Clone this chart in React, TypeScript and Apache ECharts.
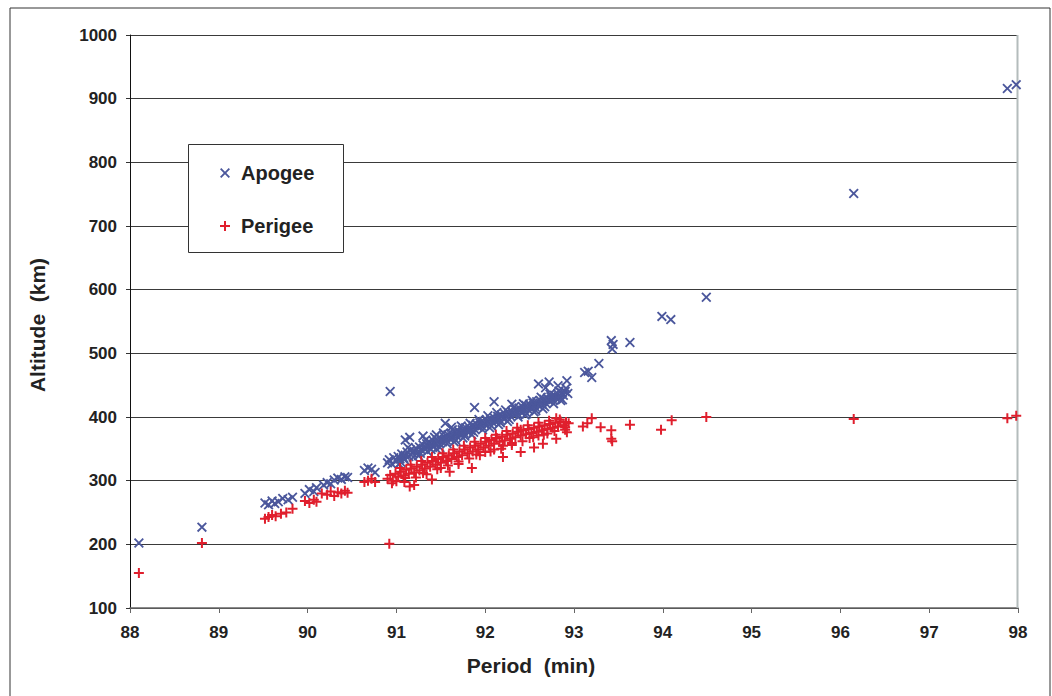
import React, { useEffect, useRef } from "react";
import * as echarts from "echarts";

const xTicks = [88, 89, 90, 91, 92, 93, 94, 95, 96, 97, 98];
const yTicks = [100, 200, 300, 400, 500, 600, 700, 800, 900, 1000];
const xTitle = "Period  (min)";
const yTitle = "Altitude  (km)";

// Apogee: [period (min), altitude (km)]
const apogeeLow: number[][] = [
  [88.1, 202], [88.81, 227],
  [89.52, 265], [89.56, 262], [89.6, 268], [89.63, 264], [89.67, 267], [89.72, 272], [89.78, 270], [89.83, 274],
  [89.97, 280], [90.02, 286], [90.07, 283], [90.1, 289],
  [90.18, 293], [90.22, 297], [90.26, 295], [90.3, 301], [90.34, 304], [90.38, 302], [90.42, 306], [90.45, 305],
  [90.64, 316], [90.68, 320], [90.72, 318], [90.76, 313],
  [90.93, 440],
];
const apogeeBand: number[][] = [
  [90.9, 328], [90.92, 333], [90.95, 326], [90.97, 336], [91.0, 331], [91.02, 338], [91.04, 334], [91.06, 342],
  [91.08, 336], [91.1, 340], [91.12, 345], [91.14, 338], [91.16, 348], [91.18, 343], [91.2, 346], [91.22, 351],
  [91.24, 344], [91.26, 353], [91.28, 348], [91.3, 356], [91.32, 350], [91.34, 358], [91.36, 353], [91.38, 360],
  [91.4, 355], [91.42, 362], [91.44, 357], [91.46, 364], [91.48, 359], [91.5, 366], [91.52, 361], [91.54, 369],
  [91.56, 364], [91.58, 372], [91.6, 366], [91.62, 374], [91.64, 368], [91.66, 376], [91.68, 370], [91.7, 378],
  [91.72, 373], [91.74, 380], [91.76, 375], [91.78, 383], [91.8, 377], [91.82, 384], [91.84, 379], [91.86, 387],
  [91.88, 381], [91.9, 389], [91.92, 384], [91.94, 391], [91.96, 386], [91.98, 393], [92.0, 388], [92.02, 395],
  [92.04, 390], [92.06, 397], [92.08, 392], [92.1, 399], [92.12, 394], [92.14, 401], [92.16, 396], [92.18, 403],
  [92.2, 398], [92.22, 405], [92.24, 400], [92.26, 407], [92.28, 402], [92.3, 409], [92.32, 404], [92.34, 411],
  [92.36, 406], [92.38, 414], [92.4, 408], [92.42, 416], [92.44, 410], [92.46, 418], [92.48, 412], [92.5, 420],
  [92.52, 414], [92.54, 422], [92.56, 416], [92.58, 424], [92.6, 418], [92.62, 426], [92.64, 420], [92.66, 428],
  [92.68, 422], [92.7, 430], [92.72, 425], [92.74, 432], [92.76, 427], [92.78, 434], [92.8, 429], [92.82, 436],
  [92.84, 431], [92.86, 438], [92.88, 434], [92.9, 440],
  [91.05, 329], [91.25, 339], [91.45, 350], [91.65, 361], [91.85, 372], [92.05, 383], [92.25, 393], [92.45, 403],
  [92.65, 413], [92.85, 426], [91.35, 346], [91.75, 367], [92.15, 388], [92.55, 408],
  [91.03, 326], [91.09, 333], [91.13, 352], [91.19, 337], [91.27, 343], [91.33, 364], [91.39, 349], [91.43, 368],
  [91.49, 352], [91.53, 375], [91.57, 358], [91.63, 380], [91.67, 363], [91.73, 386], [91.77, 370], [91.83, 390],
  [91.87, 376], [91.93, 396], [91.97, 380], [92.03, 402], [92.07, 386], [92.13, 407], [92.17, 391], [92.23, 411],
  [92.27, 396], [92.33, 416], [92.37, 400], [92.43, 421], [92.47, 405], [92.53, 426], [92.57, 410], [92.63, 431],
  [92.67, 416], [92.73, 436], [92.77, 421], [92.83, 441], [92.87, 427], [92.91, 445], [92.93, 437],
];
const apogeeHigh: number[][] = [
  [91.1, 364], [91.15, 368], [91.3, 370], [91.45, 372], [91.55, 390], [91.62, 384], [91.88, 415], [92.1, 424],
  [92.3, 420], [92.6, 452], [92.68, 446], [92.72, 455], [92.82, 449], [92.92, 457],
  [93.12, 470], [93.16, 472], [93.2, 462], [93.28, 484], [93.42, 520], [93.44, 514], [93.43, 507], [93.63, 517],
  [93.99, 558], [94.09, 553], [94.49, 588], [96.15, 751], [97.88, 916], [97.98, 922],
];
const apogee: number[][] = [...apogeeLow, ...apogeeBand, ...apogeeHigh];

// Perigee: [period (min), altitude (km)]
const perigeeLow: number[][] = [
  [88.1, 155], [88.81, 202],
  [89.52, 240], [89.56, 243], [89.6, 246], [89.64, 244], [89.7, 248], [89.76, 250], [89.83, 256],
  [89.97, 268], [90.02, 265], [90.07, 270], [90.1, 267],
  [90.16, 280], [90.22, 278], [90.26, 283], [90.3, 276], [90.34, 282], [90.38, 280], [90.42, 284], [90.45, 281],
  [90.64, 298], [90.68, 300], [90.72, 303], [90.76, 298],
  [90.92, 201],
];
const perigeeBand: number[][] = [
  [90.9, 303], [90.93, 309], [90.96, 300], [90.99, 311], [91.02, 306], [91.05, 314], [91.08, 308], [91.11, 317],
  [91.14, 311], [91.17, 319], [91.2, 313], [91.23, 322], [91.26, 316], [91.29, 325], [91.32, 319], [91.35, 328],
  [91.38, 322], [91.41, 331], [91.44, 325], [91.47, 334], [91.5, 328], [91.53, 337], [91.56, 331], [91.59, 340],
  [91.62, 334], [91.65, 343], [91.68, 337], [91.71, 346], [91.74, 340], [91.77, 349], [91.8, 343], [91.83, 352],
  [91.86, 346], [91.89, 355], [91.92, 349], [91.95, 358], [91.98, 352], [92.01, 361], [92.04, 355], [92.07, 364],
  [92.1, 358], [92.13, 367], [92.16, 361], [92.19, 369], [92.22, 363], [92.25, 372], [92.28, 366], [92.31, 374],
  [92.34, 368], [92.37, 377], [92.4, 371], [92.43, 379], [92.46, 373], [92.49, 381], [92.52, 375], [92.55, 383],
  [92.58, 377], [92.61, 385], [92.64, 379], [92.67, 387], [92.7, 381], [92.73, 389], [92.76, 383], [92.79, 391],
  [92.82, 385], [92.85, 393], [92.88, 387], [92.91, 392],
  [91.0, 299], [91.1, 304], [91.3, 312], [91.5, 320], [91.7, 330], [91.9, 341], [92.1, 349], [92.3, 359],
  [92.5, 367], [92.7, 374], [92.9, 384], [92.0, 345], [92.2, 355], [92.6, 371], [92.4, 380], [92.8, 398],
  [90.95, 296], [91.04, 320], [91.09, 298], [91.16, 325], [91.22, 305], [91.28, 331], [91.34, 310], [91.4, 337],
  [91.46, 318], [91.52, 343], [91.58, 324], [91.64, 349], [91.7, 326], [91.76, 355], [91.82, 335], [91.88, 361],
  [91.94, 340], [92.0, 367], [92.06, 346], [92.12, 372], [92.18, 350], [92.24, 378], [92.3, 356], [92.36, 383],
  [92.42, 362], [92.48, 387], [92.54, 368], [92.6, 391], [92.66, 372], [92.72, 394], [92.78, 378], [92.84, 396],
  [92.9, 380], [92.94, 390],
];
const perigeeHigh: number[][] = [
  [91.15, 291], [91.2, 293], [91.4, 302], [91.6, 314], [91.85, 320], [92.2, 337], [92.4, 345], [92.55, 352],
  [92.65, 358], [92.8, 366], [92.92, 376],
  [93.1, 385], [93.15, 390], [93.2, 398], [93.3, 384], [93.42, 379], [93.42, 366], [93.43, 362], [93.63, 388],
  [93.98, 380], [94.1, 395], [94.49, 400], [96.15, 397], [97.88, 398], [97.98, 402],
];
const perigee: number[][] = [...perigeeLow, ...perigeeBand, ...perigeeHigh];

const seriesNames = ["Apogee", "Perigee"];

const PLUS = "path://M4,0H6V4H10V6H6V10H4V6H0V4H4Z";
const CROSS = "path://M1.3,0L5,3.7L8.7,0L10,1.3L6.3,5L10,8.7L8.7,10L5,6.3L1.3,10L0,8.7L3.7,5L0,1.3Z";

const BLUE = "#4b579c";
const RED = "#e01f2d";
const FONT = "'Liberation Sans', Arial, sans-serif";

export default function App() {
  const ref = useRef<HTMLDivElement>(null);
  useEffect(() => {
    if (!ref.current) return;
    const chart = echarts.init(ref.current, null, { renderer: "svg" });
    chart.setOption({
      animation: false,
      backgroundColor: "#ffffff",
      grid: { left: 130, right: 34, top: 35, bottom: 88, show: false },
      graphic: [
        {
          type: "rect",
          shape: { x: 10, y: 8, width: 1040, height: 700 },
          style: { fill: "none", stroke: "#333", lineWidth: 1 },
          silent: true,
          z: -1,
        },
        {
          type: "line",
          shape: { x1: 1017.5, y1: 35, x2: 1017.5, y2: 608 },
          style: { stroke: "#b4bcbc", lineWidth: 2 },
          silent: true,
          z: 1,
        },
        {
          type: "rect",
          shape: { x: 188.5, y: 144.5, width: 155, height: 108 },
          style: { fill: "#ffffff", stroke: "#333", lineWidth: 1 },
          silent: true,
          z: 50,
        },
        {
          type: "text",
          x: 531,
          y: 665,
          style: {
            text: xTitle,
            fontFamily: FONT,
            fontSize: 21,
            fontWeight: "bold",
            fill: "#222",
            align: "center",
            verticalAlign: "middle",
          },
          silent: true,
        },
        {
          type: "text",
          x: 37,
          y: 325,
          rotation: Math.PI / 2,
          style: {
            text: yTitle,
            fontFamily: FONT,
            fontSize: 21,
            fontWeight: "bold",
            fill: "#222",
            align: "center",
            verticalAlign: "middle",
          },
          silent: true,
        },
      ],
      legend: {
        orient: "vertical",
        left: 220,
        top: 163,
        itemWidth: 10,
        itemHeight: 10,
        itemGap: 33,
        padding: 0,
        z: 60,
        data: [
          { name: seriesNames[0], icon: CROSS },
          { name: seriesNames[1], icon: PLUS },
        ],
        textStyle: {
          fontFamily: FONT,
          fontSize: 20,
          fontWeight: "bold",
          color: "#222",
          lineHeight: 20,
          padding: [0, 0, 0, 6],
        },
      },
      xAxis: {
        type: "value",
        min: xTicks[0],
        max: xTicks[xTicks.length - 1],
        interval: 1,
        axisLine: { show: true, onZero: false, lineStyle: { color: "#666", width: 1.5 } },
        axisTick: { show: true, length: 5, inside: false, lineStyle: { color: "#666" } },
        axisLabel: {
          fontFamily: FONT,
          fontSize: 17,
          fontWeight: "bold",
          color: "#222",
          margin: 16,
          formatter: (v: number) => String(v),
        },
        splitLine: { show: false },
      },
      yAxis: {
        type: "value",
        min: yTicks[0],
        max: yTicks[yTicks.length - 1],
        interval: 100,
        axisLine: { show: true, onZero: false, lineStyle: { color: "#111", width: 1 } },
        axisTick: { show: true, length: 4, inside: false, lineStyle: { color: "#333" } },
        axisLabel: {
          fontFamily: FONT,
          fontSize: 17,
          fontWeight: "bold",
          color: "#222",
          margin: 13,
          formatter: (v: number) => String(v),
        },
        splitLine: { show: true, lineStyle: { color: "#3a3a3a", width: 1 } },
      },
      series: [
        {
          name: seriesNames[0],
          type: "scatter",
          data: apogee,
          symbol: CROSS,
          symbolSize: 10,
          itemStyle: { color: BLUE, opacity: 1 },
          z: 3,
        },
        {
          name: seriesNames[1],
          type: "scatter",
          data: perigee,
          symbol: PLUS,
          symbolSize: 10,
          itemStyle: { color: RED, opacity: 1 },
          z: 4,
        },
      ],
    });
    return () => chart.dispose();
  }, []);
  return (
    <div
      ref={ref}
      style={{ position: "absolute", left: 0, top: 0, width: 1052, height: 696 }}
    />
  );
}
